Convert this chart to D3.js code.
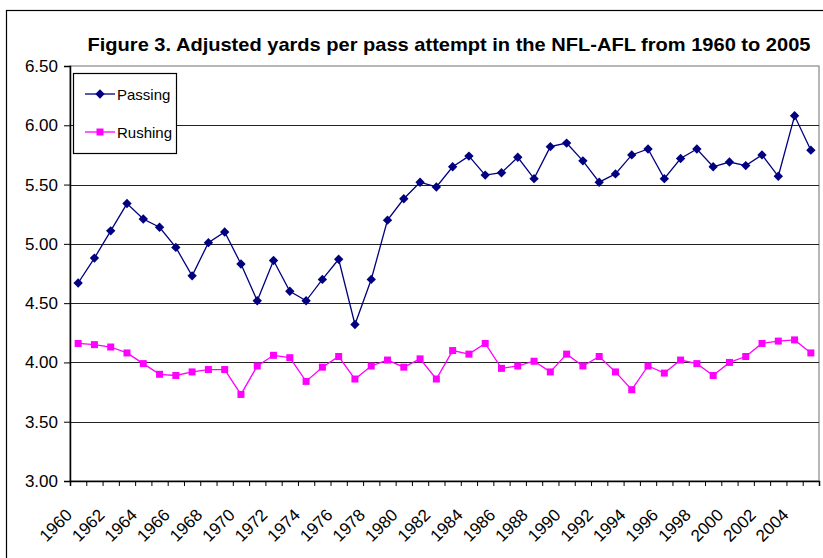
<!DOCTYPE html>
<html>
<head>
<meta charset="utf-8">
<script src="https://cdn.jsdelivr.net/npm/d3@7"></script>
<style>
  body { margin: 0; background: #fff; }
  svg { display: block; font-family: "Liberation Sans", Arial, sans-serif; }
</style>
</head>
<body>
<script>
// Data
const years = d3.range(1960, 2006);
const passing = [
  4.67, 4.88, 5.11, 5.34, 5.21, 5.14, 4.97, 4.73, 5.01, 5.10,
  4.83, 4.52, 4.86, 4.60, 4.52, 4.70, 4.87, 4.32, 4.70, 5.20,
  5.38, 5.52, 5.48, 5.65, 5.74, 5.58, 5.60, 5.73, 5.55, 5.82,
  5.85, 5.70, 5.52, 5.59, 5.75, 5.80, 5.55, 5.72, 5.80, 5.65,
  5.69, 5.66, 5.75, 5.57, 6.08, 5.79
];
const rushing = [
  4.16, 4.15, 4.13, 4.08, 3.99, 3.90, 3.89, 3.92, 3.94, 3.94,
  3.73, 3.97, 4.06, 4.04, 3.84, 3.96, 4.05, 3.86, 3.97, 4.02,
  3.96, 4.03, 3.86, 4.10, 4.07, 4.16, 3.95, 3.97, 4.01, 3.92,
  4.07, 3.97, 4.05, 3.92, 3.77, 3.97, 3.91, 4.02, 3.99, 3.89,
  4.00, 4.05, 4.16, 4.18, 4.19, 4.08
];
const yTicks = [3.0, 3.5, 4.0, 4.5, 5.0, 5.5, 6.0, 6.5];
const xLabels = d3.range(1960, 2005, 2);
const seriesNames = ["Passing", "Rushing"];

let w = 823;
let h = 558;
let mLeft = 70, mRight = 819, mTop = 66, mBottom = 481;

let svg = d3.select("body").append("svg").attr("width", w).attr("height", h);

// outer chart border
svg.append("rect")
  .attr("x", 6.5).attr("y", 10.5)
  .attr("width", 840).attr("height", 580)
  .attr("fill", "none").attr("stroke", "#000").attr("stroke-width", 1.2);

let x = d3.scaleLinear().domain([1959.5, 2005.5]).range([mLeft, mRight]);
let y = d3.scaleLinear().domain([3, 6.5]).range([mBottom, mTop]);

// plot area border (gray)
svg.append("rect")
  .attr("x", mLeft).attr("y", mTop)
  .attr("width", mRight - mLeft).attr("height", mBottom - mTop)
  .attr("fill", "none").attr("stroke", "#888").attr("stroke-width", 1.2);

// gridlines
svg.append("g")
  .selectAll("line")
  .data(yTicks.filter((d) => d > 3 && d < 6.5))
  .enter()
  .append("line")
  .attr("x1", mLeft).attr("x2", mRight)
  .attr("y1", (d) => Math.round(y(d)) + 0.5)
  .attr("y2", (d) => Math.round(y(d)) + 0.5)
  .attr("stroke", "#222").attr("stroke-width", 1.2);

// y axis
let yAxis = d3.axisLeft(y).tickValues(yTicks).tickFormat(d3.format(".2f")).tickSize(6).tickPadding(6);
let gy = svg.append("g").attr("transform", "translate(" + mLeft + ",0)").call(yAxis);
gy.select(".domain").attr("stroke", "#000").attr("stroke-width", 1.5);
gy.selectAll(".tick line").attr("stroke", "#000");
gy.selectAll("text").attr("font-size", "17px").attr("font-family", "Liberation Sans, Arial, sans-serif").attr("fill", "#000");

// x axis (ticks between categories)
let xAxis = d3.axisBottom(x).tickValues(d3.range(1959.5, 2006, 1)).tickFormat("").tickSize(5);
let gx = svg.append("g").attr("transform", "translate(0," + mBottom + ")").call(xAxis);
gx.select(".domain").attr("stroke", "#000").attr("stroke-width", 1.5);
gx.selectAll(".tick line").attr("stroke", "#000");

// x labels
svg.append("g")
  .selectAll("text")
  .data(xLabels)
  .enter()
  .append("text")
  .attr("transform", (d) => "translate(" + (x(d) - 5) + "," + 516 + ") rotate(-45)")
  .attr("text-anchor", "end")
  .attr("font-size", "17px")
  .text((d) => d);

// lines
let line = d3.line().x((d, i) => x(years[i])).y((d) => y(d));

svg.append("path").datum(rushing)
  .attr("d", line).attr("fill", "none")
  .attr("stroke", "#ff00ff").attr("stroke-width", 1.3);
svg.append("path").datum(passing)
  .attr("d", line).attr("fill", "none")
  .attr("stroke", "#000080").attr("stroke-width", 1.3);

// markers
svg.append("g").selectAll("rect")
  .data(rushing)
  .enter()
  .append("rect")
  .attr("x", (d, i) => x(years[i]) - 3.5)
  .attr("y", (d) => y(d) - 3.5)
  .attr("width", 7).attr("height", 7)
  .attr("fill", "#ff00ff");

let diamond = d3.symbol().type(d3.symbolDiamond2).size(56);
svg.append("g").selectAll("path")
  .data(passing)
  .enter()
  .append("path")
  .attr("d", diamond)
  .attr("transform", (d, i) => "translate(" + x(years[i]) + "," + y(d) + ")")
  .attr("fill", "#000080");

// title (text in the original is drawn slightly wide)
svg.append("text")
  .attr("transform", "translate(449,51) scale(1.114,1)")
  .attr("text-anchor", "middle")
  .attr("font-size", "18px")
  .attr("font-weight", "bold")
  .text("Figure 3. Adjusted yards per pass attempt in the NFL-AFL from 1960 to 2005");

// legend
let lg = svg.append("g");
lg.append("rect")
  .attr("x", 73.5).attr("y", 73.5).attr("width", 103).attr("height", 80)
  .attr("fill", "#fff").attr("stroke", "#000").attr("stroke-width", 1.2);
let colors = ["#000080", "#ff00ff"];
seriesNames.forEach((name, i) => {
  let ly = 94 + i * 38;
  lg.append("line").attr("x1", 85).attr("x2", 115).attr("y1", ly).attr("y2", ly)
    .attr("stroke", colors[i]).attr("stroke-width", 1.3);
  if (i === 0) {
    lg.append("path").attr("d", diamond).attr("transform", "translate(100," + ly + ")").attr("fill", colors[i]);
  } else {
    lg.append("rect").attr("x", 96.5).attr("y", ly - 3.5).attr("width", 7).attr("height", 7).attr("fill", colors[i]);
  }
  lg.append("text").attr("x", 117).attr("y", ly + 5.5)
    .attr("font-size", "15px").text(name);
});
</script>
</body>
</html>
